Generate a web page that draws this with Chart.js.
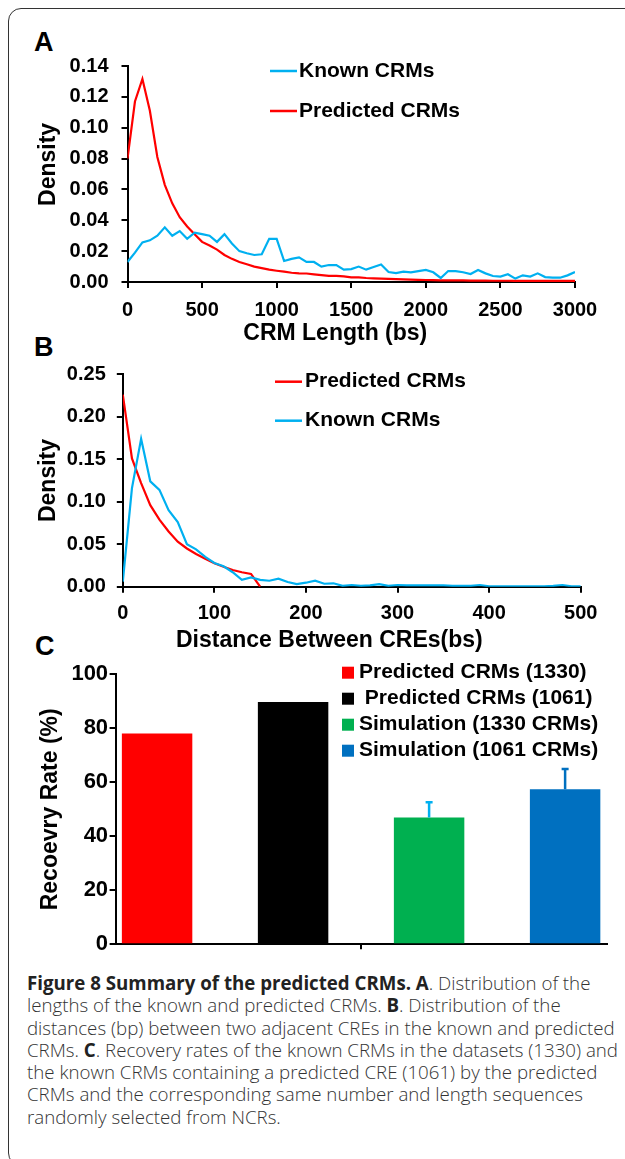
<!DOCTYPE html>
<html>
<head>
<meta charset="utf-8">
<script src="https://cdn.jsdelivr.net/npm/chart.js@4.4.0/dist/chart.umd.min.js"></script>
<style>
  body { margin: 0; background: #fff; width: 625px; height: 1159px; overflow: hidden; position: relative;
         font-family: 'Liberation Sans', Arial, sans-serif; }
  .frame { position: absolute; left: 8px; top: 8px; width: 700px; height: 1158px; box-sizing: border-box;
           border: 1.5px solid #333; border-radius: 13px; }
  canvas { position: absolute; left: 0; }
  .tag { position: absolute; font-weight: bold; font-size: 27px; line-height: 1; color: #000; }
  .caption { position: absolute; left: 27px; top: 972px; font-family: 'Open Sans', sans-serif; font-size: 18.7px;
             font-weight: 300; line-height: 22.3px; color: #333; white-space: nowrap; }
  .caption b { font-weight: 700; color: #222; }
</style>
</head>
<body>
<div class="frame"></div>
<div class="tag" style="left:34px;top:29px">A</div>
<div class="tag" style="left:34px;top:334px">B</div>
<div class="tag" style="left:35px;top:633px">C</div>

<canvas id="chartA" width="625" height="310" style="top:40px"></canvas>
<canvas id="chartB" width="625" height="310" style="top:345px"></canvas>
<canvas id="chartC" width="625" height="320" style="top:640px"></canvas>

<div class="caption"><b>Figure 8 Summary of the predicted CRMs. A</b>. Distribution of the<br>lengths of the known and predicted CRMs. <b>B</b>. Distribution of the<br>distances (bp) between two adjacent CREs in the known and predicted<br>CRMs. <b>C</b>. Recovery rates of the known CRMs in the datasets (1330) and<br>the known CRMs containing a predicted CRE (1061) by the predicted<br>CRMs and the corresponding same number and length sequences<br>randomly selected from NCRs.</div>

<script>
// panel A: CRM length density
const lengthBins = [0, 50, 100, 150, 200, 250, 300, 350, 400, 450, 500, 550, 600, 650, 700, 750, 800, 850, 900, 950,
  1000, 1050, 1100, 1150, 1200, 1250, 1300, 1350, 1400, 1450, 1500, 1550, 1600, 1650, 1700, 1750, 1800, 1850, 1900, 1950,
  2000, 2050, 2100, 2150, 2200, 2250, 2300, 2350, 2400, 2450, 2500, 2550, 2600, 2650, 2700, 2750, 2800, 2850, 2900, 2950, 3000];
const knownLength = [0.013, 0.019, 0.0257, 0.027, 0.030, 0.0354, 0.030, 0.033, 0.028, 0.032, 0.031, 0.030, 0.026, 0.031, 0.025, 0.020,
  0.0186, 0.0175, 0.018, 0.028, 0.028, 0.0136, 0.015, 0.016, 0.013, 0.013, 0.010, 0.011, 0.011, 0.008, 0.0084, 0.010, 0.008,
  0.0097, 0.0114, 0.0065, 0.0058, 0.0067, 0.0063, 0.0071, 0.0078, 0.0063, 0.0026, 0.0071, 0.0071, 0.0063, 0.0052, 0.0078,
  0.0056, 0.0039, 0.0035, 0.005, 0.0022, 0.0043, 0.0035, 0.0056, 0.0032, 0.0028, 0.0028, 0.0043, 0.0065];
const predictedLength = [0.080, 0.117, 0.1316, 0.111, 0.081, 0.063, 0.051, 0.042, 0.036, 0.031, 0.026, 0.0236, 0.021, 0.0175, 0.015,
  0.013, 0.0115, 0.010, 0.009, 0.008, 0.0073, 0.0067, 0.006, 0.0056, 0.0055, 0.005, 0.0045, 0.004, 0.004, 0.0036, 0.003, 0.003,
  0.0026, 0.0024, 0.0022, 0.002, 0.0018, 0.0017, 0.0016, 0.0014, 0.0013, 0.0012, 0.0011, 0.0011, 0.001, 0.001, 0.0009, 0.0009,
  0.0009, 0.0008, 0.0008, 0.0008, 0.0007, 0.0007, 0.0007, 0.0007, 0.0008, 0.0007, 0.0007, 0.0007, 0.0007];

// panel B: distance between adjacent CREs
const distBins = [0, 10, 20, 30, 40, 50, 60, 70, 80, 90, 100, 110, 120, 130, 140, 150, 160, 170, 180, 190, 200,
  210, 220, 230, 240, 250, 260, 270, 280, 290, 300, 310, 320, 330, 340, 350, 360, 370, 380, 390, 400,
  410, 420, 430, 440, 450, 460, 470, 480, 490, 500];
const predictedDist = [0.226, 0.151, 0.122, 0.096, 0.079, 0.065, 0.053, 0.045, 0.0385, 0.033, 0.0275, 0.0235, 0.0196, 0.017,
  0.015, 0, null, null, null, null, null, null, null, null, null, null, null, null, null, null, null, null, null, null, null,
  null, null, null, null, null, null, null, null, null, null, null, null, null, null, null, null];
const knownDist = [0.006, 0.116, 0.174, 0.124, 0.114, 0.090, 0.076, 0.050, 0.044, 0.035, 0.028, 0.024, 0.017, 0.008, 0.011,
  0.008, 0.007, 0.0094, 0.0055, 0.003, 0.0047, 0.007, 0.0035, 0.004, 0.001, 0.002, 0.001, 0.0015, 0.003, 0.001, 0.002,
  0.0015, 0.0015, 0.0015, 0.0015, 0.0015, 0.001, 0.001, 0.001, 0.002, 0.0005, 0.0005, 0.0005, 0.0005, 0.0005, 0.0005,
  0.0005, 0.001, 0.002, 0.0005, 0.0005];

// panel C: recovery rates
const groups = ['Predicted CRMs (1330)', ' Predicted CRMs (1061)', 'Simulation (1330 CRMs)', 'Simulation (1061 CRMs)'];
const rates = [78.1, 89.7, 47.0, 57.4];
const rateErrors = [0, 0, 5.6, 7.5];
const barColors = ['#ff0000', '#000000', '#00b050', '#0070c0'];
const errorColors = ['#000', '#000', '#00b0f0', '#0070c0'];

const FONT = "'Liberation Sans', Arial, sans-serif";
Chart.defaults.font.family = FONT;
Chart.defaults.color = '#000';
Chart.defaults.animation = false;

const tickFont = { size: 20, weight: 'bold' };
const titleFont = { size: 23, weight: 'bold' };

// legend drawn beside the plot, like the original
const sideKey = {
  id: 'sideKey',
  afterDraw(chart, args, opts) {
    const ctx = chart.ctx;
    const order = opts.order || chart.data.datasets.map((d, i) => i);
    ctx.save();
    ctx.font = 'bold ' + opts.size + 'px ' + FONT;
    ctx.textBaseline = 'middle';
    order.forEach((di, row) => {
      const ds = chart.data.datasets[di];
      const y = opts.y + row * opts.rowGap;
      if (opts.marker === 'box') {
        ctx.fillStyle = ds.backgroundColor;
        ctx.fillRect(opts.x, y - 6, 12, 12);
      } else {
        ctx.strokeStyle = ds.borderColor;
        ctx.lineWidth = 2.5;
        ctx.beginPath();
        ctx.moveTo(opts.x, y);
        ctx.lineTo(opts.x + 27, y);
        ctx.stroke();
      }
      ctx.fillStyle = '#000';
      ctx.fillText(ds.label, opts.textX, y);
    });
    ctx.restore();
  }
};

const errorBars = {
  id: 'errorBars',
  afterDatasetsDraw(chart) {
    const ctx = chart.ctx, y = chart.scales.y;
    chart.data.datasets.forEach((ds, i) => {
      if (!rateErrors[i]) return;
      const bar = chart.getDatasetMeta(i).data[0];
      const top = y.getPixelForValue(ds.data[0] + rateErrors[i]);
      ctx.save();
      ctx.strokeStyle = errorColors[i];
      ctx.lineWidth = 2.5;
      ctx.beginPath();
      ctx.moveTo(bar.x, bar.y);
      ctx.lineTo(bar.x, top);
      ctx.moveTo(bar.x - 3.5, top);
      ctx.lineTo(bar.x + 3.5, top);
      ctx.stroke();
      ctx.restore();
    });
  }
};

function axisGrid(len) {
  return { drawOnChartArea: false, tickLength: len, color: '#000', lineWidth: 2 };
}
const axisBorder = { color: '#000', width: 2 };
const toPoints = (xs, ys) => xs.map((x, i) => ({ x: x, y: ys[i] }));

function densityChart(id, cfg) {
  return new Chart(document.getElementById(id), {
    type: 'line',
    data: { datasets: cfg.datasets },
    options: {
      responsive: false,
      layout: { padding: cfg.padding },
      elements: { point: { radius: 0 }, line: { borderWidth: 2.2, tension: 0 } },
      plugins: { legend: { display: false }, tooltip: { enabled: false }, sideKey: cfg.key },
      scales: {
        x: {
          type: 'linear', min: 0, max: cfg.xMax,
          ticks: { stepSize: cfg.xStep, font: tickFont, padding: cfg.xPad, callback: v => String(v) },
          grid: axisGrid(6), border: axisBorder,
          title: { display: true, text: cfg.xTitle, font: titleFont, padding: { top: 0, bottom: cfg.xTitlePad } },
          afterFit: s => { s.height = cfg.xHeight; }
        },
        y: {
          min: 0, max: cfg.yMax,
          ticks: { stepSize: cfg.yStep, font: tickFont, padding: cfg.yPad, callback: v => v.toFixed(2) },
          grid: axisGrid(6), border: axisBorder,
          title: { display: true, text: cfg.yTitle, font: titleFont, padding: { top: 35.2, bottom: 0 } },
          afterFit: s => { s.width = cfg.yWidth; }
        }
      }
    },
    plugins: [sideKey]
  });
}

densityChart('chartA', {
  datasets: [
    { label: 'Known CRMs', data: toPoints(lengthBins, knownLength), borderColor: '#00b0f0' },
    { label: 'Predicted CRMs', data: toPoints(lengthBins, predictedLength), borderColor: '#ff0000' }
  ],
  padding: { top: 26, right: 50, bottom: 0, left: 0 },
  key: { x: 270, textX: 299, y: 31, rowGap: 40, size: 21 },
  xMax: 3000, xStep: 500, xPad: 10, xHeight: 68, xTitle: 'CRM Length (bs)     ', xTitlePad: 3,
  yMax: 0.14, yStep: 0.02, yPad: 13, yWidth: 127.5, yTitle: '   Density'
});

densityChart('chartB', {
  datasets: [
    { label: 'Known CRMs', data: toPoints(distBins, knownDist), borderColor: '#00b0f0' },
    { label: 'Predicted CRMs', data: toPoints(distBins, predictedDist), borderColor: '#ff0000' }
  ],
  padding: { top: 29.3, right: 44.3, bottom: 0, left: 0 },
  key: { x: 275, textX: 305, y: 36.7, rowGap: 39, size: 21, order: [1, 0] },
  xMax: 500, xStep: 100, xPad: 9, xHeight: 68.3, xTitle: 'Distance Between CREs(bs)       ', xTitlePad: 1,
  yMax: 0.25, yStep: 0.05, yPad: 11, yWidth: 122.8, yTitle: 'Density'
});

new Chart(document.getElementById('chartC'), {
  type: 'bar',
  data: {
    labels: [''],
    datasets: groups.map((g, i) => ({
      label: g, data: [rates[i]], backgroundColor: barColors[i],
      categoryPercentage: 1.108, barPercentage: 0.518
    }))
  },
  options: {
    responsive: false,
    layout: { padding: { top: 34.3, right: 18.4, bottom: 0, left: 0 } },
    plugins: {
      legend: { display: false }, tooltip: { enabled: false },
      sideKey: { marker: 'box', x: 342, textX: 359, y: 32.7, rowGap: 26, size: 21 }
    },
    scales: {
      x: {
        grid: { drawOnChartArea: false, offset: false, tickLength: 5, color: '#000', lineWidth: 2 },
        ticks: { display: false }, border: axisBorder,
        afterFit: s => { s.height = 15.7; }
      },
      y: {
        min: 0, max: 100,
        ticks: { stepSize: 20, font: { size: 22, weight: 'bold' }, padding: 1.5 },
        grid: axisGrid(6), border: axisBorder,
        title: { display: true, text: 'Recoevry Rate (%)', font: titleFont, padding: { top: 37.2, bottom: 0 } },
        afterFit: s => { s.width = 115.6; }
      }
    }
  },
  plugins: [sideKey, errorBars]
});
</script>
</body>
</html>
